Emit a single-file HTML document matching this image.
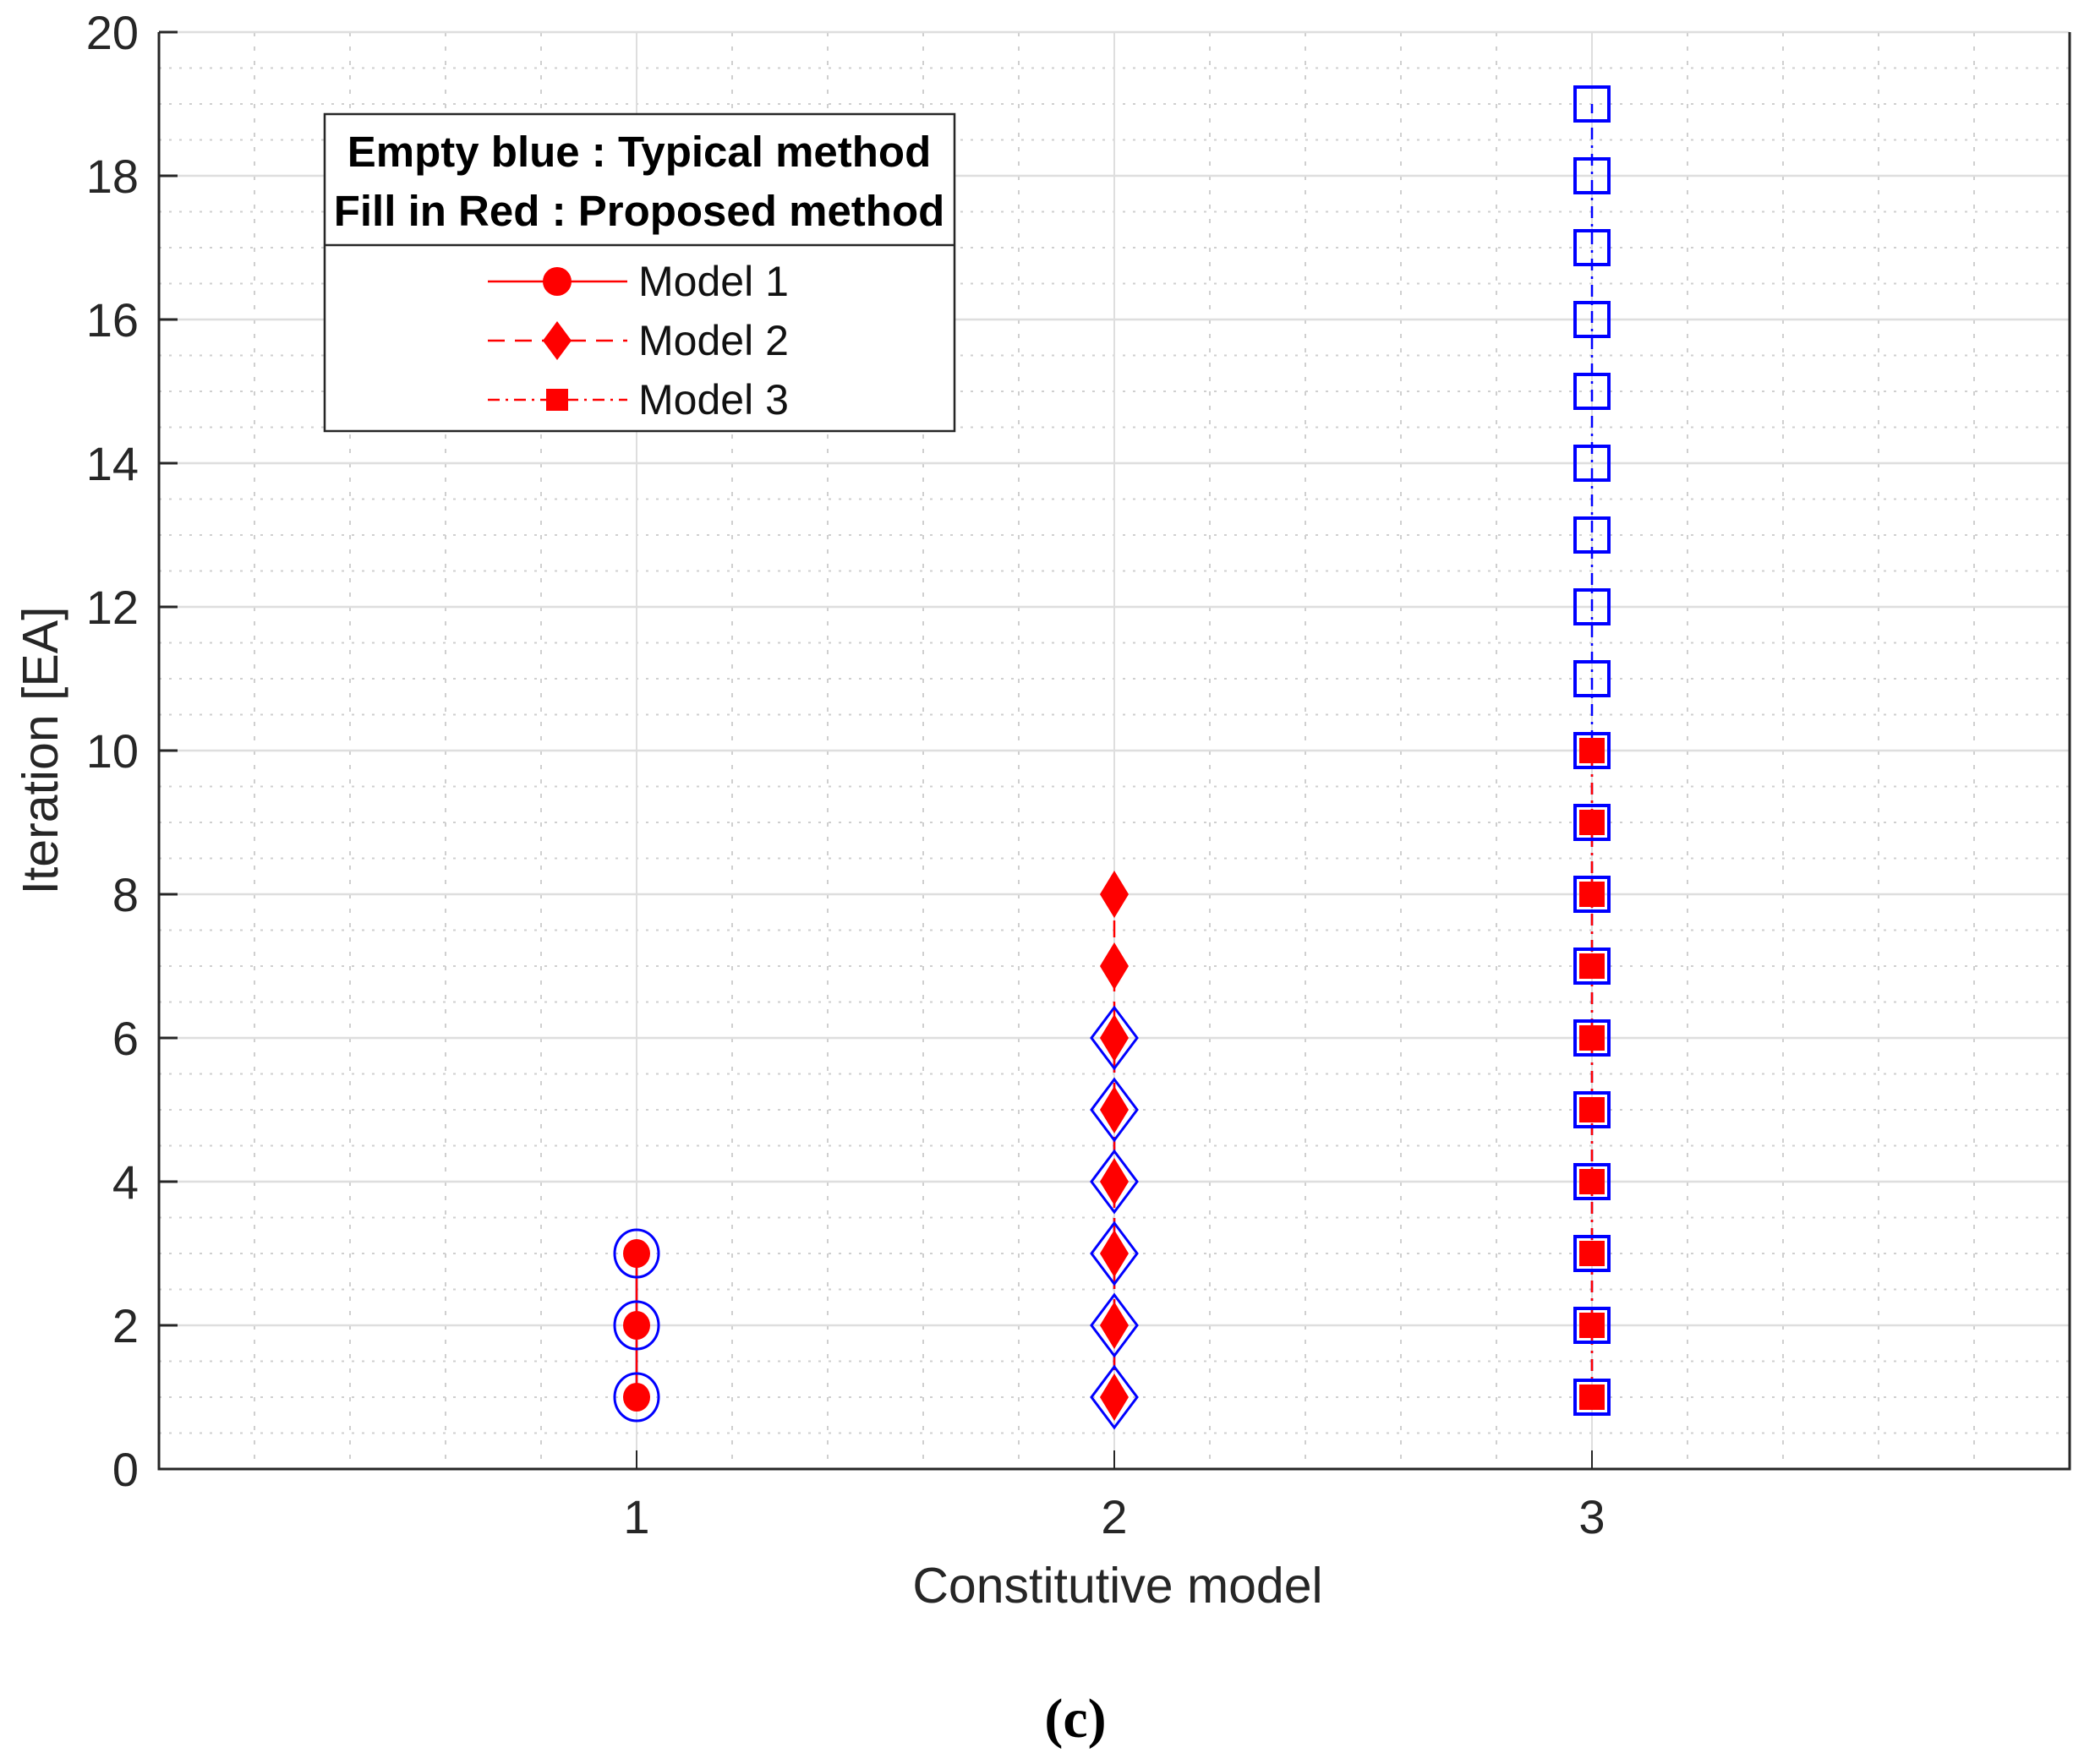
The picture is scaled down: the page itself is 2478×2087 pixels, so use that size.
<!DOCTYPE html>
<html><head><meta charset="utf-8"><style>
html,body{margin:0;padding:0;background:#fff;}
svg text{font-family:"Liberation Sans",Arial,sans-serif;}
</style></head><body>
<svg id="chart" width="2478" height="2082" viewBox="0 0 2478 2082" xmlns="http://www.w3.org/2000/svg">
<g id="grid"></g>
<g id="series"></g>
<g id="axes"></g>
<g id="legend">
  <rect x="384" y="135" width="745" height="375" fill="#fff" stroke="#262626" stroke-width="2.5"/>
  <line x1="384" y1="290" x2="1129" y2="290" stroke="#262626" stroke-width="2.5"/>
  <text x="756" y="197" font-size="51" font-weight="bold" text-anchor="middle">Empty blue : Typical method</text>
  <text x="756" y="267" font-size="51" font-weight="bold" text-anchor="middle">Fill in Red : Proposed method</text>
  <g>
    <line x1="577" y1="333" x2="742" y2="333" stroke="#f00" stroke-width="2.5"/>
    <circle cx="659" cy="333" r="17" fill="#f00"/>
    <text x="755" y="350" font-size="50" fill="#111">Model 1</text>
  </g>
  <g>
    <line x1="577" y1="403" x2="742" y2="403" stroke="#f00" stroke-width="2.5" stroke-dasharray="20,12"/>
    <polygon points="659,380 676,403 659,426 642,403" fill="#f00"/>
    <text x="755" y="420" font-size="50" fill="#111">Model 2</text>
  </g>
  <g>
    <line x1="577" y1="473" x2="742" y2="473" stroke="#f00" stroke-width="2.5" stroke-dasharray="14,7,3,7"/>
    <rect x="646" y="460" width="26" height="26" fill="#f00"/>
    <text x="755" y="490" font-size="50" fill="#111">Model 3</text>
  </g>
</g>
<text x="1322" y="1896" font-size="59" fill="#262626" text-anchor="middle">Constitutive model</text>
<text transform="translate(68,888) rotate(-90)" font-size="59" fill="#262626" text-anchor="middle">Iteration [EA]</text>
<text x="1272" y="2055" font-size="66" font-weight="bold" text-anchor="middle" style="font-family:'Liberation Serif',serif">(c)</text>
</svg>
<script>
const categories = [1, 2, 3];
const xTicks = [1, 2, 3];
const yTicks = [0, 2, 4, 6, 8, 10, 12, 14, 16, 18, 20];
const typicalIterations = [3, 6, 19];
const proposedIterations = [3, 8, 10];

const NS = "http://www.w3.org/2000/svg";
const L = 188, R = 2448, T = 38, B = 1738;
const xMin = 0, xMax = 4, yMin = 0, yMax = 20;
function xs(v){ return L + (v - xMin) / (xMax - xMin) * (R - L); }
function ys(v){ return B - (v - yMin) / (yMax - yMin) * (B - T); }
function mk(tag, attrs, parent){
  const e = document.createElementNS(NS, tag);
  for (const k in attrs) e.setAttribute(k, attrs[k]);
  parent.appendChild(e);
  return e;
}
const grid = document.getElementById('grid');
const series = document.getElementById('series');
const axes = document.getElementById('axes');

for (let v = xMin; v <= xMax + 1e-9; v += 0.2) {
  const l = mk('line', {x1: xs(v), y1: T, x2: xs(v), y2: B, stroke: '#cfcfcf', 'stroke-width': 2, 'stroke-dasharray': '5,12'}, grid);
  
  
}
for (let v = yMin; v <= yMax + 1e-9; v += 0.5) {
  const l = mk('line', {x1: L, y1: ys(v), x2: R, y2: ys(v), stroke: '#cfcfcf', 'stroke-width': 2, 'stroke-dasharray': '3,9'}, grid);
  
  
}
for (let v = xMin; v <= xMax; v += 1) {
  const l = mk('line', {x1: xs(v), y1: T, x2: xs(v), y2: B, stroke: '#dedede', 'stroke-width': 2}, grid);
  
  
}
yTicks.forEach(v => {
  const l = mk('line', {x1: L, y1: ys(v), x2: R, y2: ys(v), stroke: '#dedede', 'stroke-width': 2.5}, grid);
  
  
});

const dashes = ['', '20,12', '14,7,3,7'];
categories.forEach((c, i) => {
  const x = xs(c);
  const bl = mk('line', {x1: x, y1: ys(1), x2: x, y2: ys(typicalIterations[i]), stroke: '#00f', 'stroke-width': 2.5, 'stroke-dasharray': dashes[i]}, series);
  
  
  const rl = mk('line', {x1: x, y1: ys(1), x2: x, y2: ys(proposedIterations[i]), stroke: '#f00', 'stroke-width': 2.5, 'stroke-dasharray': dashes[i]}, series);
  
  
  for (let k = 1; k <= typicalIterations[i]; k++) {
    const y = ys(k);
    let m;
    if (i === 0) m = mk('ellipse', {cx: x, cy: y, rx: 26, ry: 28, fill: 'none', stroke: '#00f', 'stroke-width': 3}, series);
    else if (i === 1) m = mk('polygon', {points: `${x},${y-36} ${x+27},${y} ${x},${y+36} ${x-27},${y}`, fill: 'none', stroke: '#00f', 'stroke-width': 3}, series);
    else m = mk('rect', {x: x-20, y: y-20, width: 40, height: 40, fill: 'none', stroke: '#00f', 'stroke-width': 4}, series);
    
    
  }
  for (let k = 1; k <= proposedIterations[i]; k++) {
    const y = ys(k);
    let m;
    if (i === 0) m = mk('ellipse', {cx: x, cy: y, rx: 16, ry: 17, fill: '#f00'}, series);
    else if (i === 1) m = mk('polygon', {points: `${x},${y-28} ${x+17},${y} ${x},${y+28} ${x-17},${y}`, fill: '#f00'}, series);
    else m = mk('rect', {x: x-15, y: y-15, width: 30, height: 30, fill: '#f00'}, series);
    
    
  }
});

const ax = mk('path', {d: `M${L},${T} L${L},${B} L${R},${B} L${R},${T}`, fill: 'none', stroke: '#262626', 'stroke-width': 3}, axes);


yTicks.forEach(v => {
  const t = mk('line', {x1: L, y1: ys(v), x2: L + 22, y2: ys(v), stroke: '#262626', 'stroke-width': 3}, axes);
  
  
  const tx = mk('text', {x: 164, y: ys(v) + 20, 'font-size': 56, fill: '#262626', 'text-anchor': 'end'}, axes);
  tx.textContent = v;
  
  
});
xTicks.forEach(v => {
  const t = mk('line', {x1: xs(v), y1: B, x2: xs(v), y2: B - 22, stroke: '#262626', 'stroke-width': 2}, axes);
  
  
  const tx = mk('text', {x: xs(v), y: 1814, 'font-size': 56, fill: '#262626', 'text-anchor': 'middle'}, axes);
  tx.textContent = v;
  
  
});
</script>
</body></html>
